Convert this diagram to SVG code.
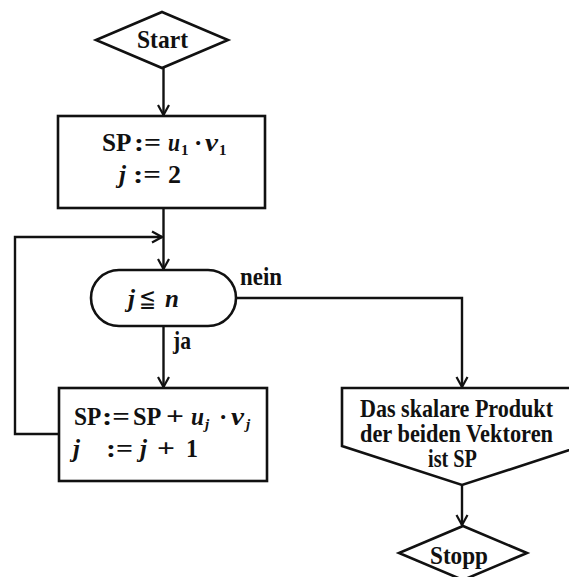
<svg xmlns="http://www.w3.org/2000/svg" width="569" height="577" viewBox="0 0 569 577">
  <defs>
    <marker id="arrow" markerUnits="userSpaceOnUse" markerWidth="14" markerHeight="14" viewBox="-12 -7 14 14" refX="0" refY="0" orient="auto">
      <path d="M-10,-5.5 L0,0 L-10,5.5" fill="none" stroke="#111" stroke-width="2.2" stroke-linejoin="miter"/>
    </marker>
    <style>
      .shape { fill: #fff; stroke: #111; stroke-width: 2.6; }
      .edge { fill: none; stroke: #111; stroke-width: 2.4; marker-end: url(#arrow); }
      text { font-family: "Liberation Serif", "DejaVu Serif", serif; fill: #111; font-weight: bold; }
      .lbl { font-size: 25px; }
      .m { font-size: 25px; }
      .it { font-style: italic; }
      .sub { font-size: 15px; }
      .cmp { font-family: "DejaVu Serif", serif; font-weight: normal; }
    </style>
  </defs>

  <rect width="569" height="577" fill="#fff"/>

  <!-- connectors -->
  <g id="connectors">
    <path class="edge" d="M163.5,68 V115"/>
    <path class="edge" d="M163.5,208 V269"/>
    <path class="edge" d="M59,434 H15 V237 H162"/>
    <path class="edge" d="M163.5,327 V387"/>
    <path class="edge" d="M236,298 H462 V387"/>
    <path class="edge" d="M462,485 V525"/>
  </g>

  <!-- start terminal -->
  <g id="start">
    <polygon class="shape" points="162,12 228,40 162,68 96,40"/>
    <text class="lbl" x="137" y="48" textLength="51" lengthAdjust="spacingAndGlyphs">Start</text>
  </g>

  <!-- initialisation -->
  <g id="init">
    <rect class="shape" x="58" y="116" width="207" height="92"/>
    <text class="m" y="151">
      <tspan x="102" textLength="28" lengthAdjust="spacingAndGlyphs">SP</tspan>
      <tspan x="134" textLength="27" lengthAdjust="spacingAndGlyphs">:=</tspan>
      <tspan x="168" class="it" textLength="12" lengthAdjust="spacingAndGlyphs">u</tspan>
      <tspan x="181" dy="4" class="sub">1</tspan>
      <tspan x="194" dy="-4">·</tspan>
      <tspan x="205" class="it" textLength="13" lengthAdjust="spacingAndGlyphs">v</tspan>
      <tspan x="219" dy="4" class="sub">1</tspan>
    </text>
    <text class="m" y="183">
      <tspan x="119" class="it">j</tspan>
      <tspan x="133" textLength="28" lengthAdjust="spacingAndGlyphs">:=</tspan>
      <tspan x="168" textLength="13" lengthAdjust="spacingAndGlyphs">2</tspan>
    </text>
  </g>

  <!-- loop condition -->
  <g id="condition">
    <rect class="shape" x="91" y="270" width="145" height="56" rx="28" ry="28"/>
    <text class="m" y="307">
      <tspan x="128" class="it">j</tspan>
      <tspan x="139" class="cmp" textLength="17" lengthAdjust="spacingAndGlyphs">≦</tspan>
      <tspan x="165" class="it">n</tspan>
    </text>
    <text class="lbl" x="240" y="285" textLength="42" lengthAdjust="spacingAndGlyphs">nein</text>
    <text class="lbl" x="173" y="349" textLength="18" lengthAdjust="spacingAndGlyphs">ja</text>
  </g>

  <!-- accumulation step -->
  <g id="step">
    <rect class="shape" x="59" y="388" width="208" height="93"/>
    <text class="m" y="425">
      <tspan x="74" textLength="26" lengthAdjust="spacingAndGlyphs">SP</tspan>
      <tspan x="102" textLength="28" lengthAdjust="spacingAndGlyphs">:=</tspan>
      <tspan x="133" textLength="27" lengthAdjust="spacingAndGlyphs">SP</tspan>
      <tspan x="166" textLength="18" lengthAdjust="spacingAndGlyphs">+</tspan>
      <tspan x="191" class="it" textLength="13" lengthAdjust="spacingAndGlyphs">u</tspan>
      <tspan x="205" dy="4" class="sub it">j</tspan>
      <tspan x="219" dy="-4">·</tspan>
      <tspan x="231" class="it" textLength="13" lengthAdjust="spacingAndGlyphs">v</tspan>
      <tspan x="246" dy="4" class="sub it">j</tspan>
    </text>
    <text class="m" y="457">
      <tspan x="73" class="it">j</tspan>
      <tspan x="106" textLength="27" lengthAdjust="spacingAndGlyphs">:=</tspan>
      <tspan x="140" class="it">j</tspan>
      <tspan x="157" textLength="18" lengthAdjust="spacingAndGlyphs">+</tspan>
      <tspan x="186" textLength="12" lengthAdjust="spacingAndGlyphs">1</tspan>
    </text>
  </g>

  <!-- result output -->
  <g id="output">
    <polygon class="shape" points="342,388 582,388 582,446 462,485 342,446"/>
    <text class="lbl" x="360" y="417" textLength="193" lengthAdjust="spacingAndGlyphs">Das skalare Produkt</text>
    <text class="lbl" x="360" y="442" textLength="193" lengthAdjust="spacingAndGlyphs">der beiden Vektoren</text>
    <text class="lbl" x="428" y="467" textLength="49" lengthAdjust="spacingAndGlyphs">ist SP</text>
  </g>

  <!-- stop terminal -->
  <g id="stop">
    <polygon class="shape" points="463,526 527,553 463,580 399,553"/>
    <text class="lbl" x="430" y="564" textLength="58" lengthAdjust="spacingAndGlyphs">Stopp</text>
  </g>
</svg>
